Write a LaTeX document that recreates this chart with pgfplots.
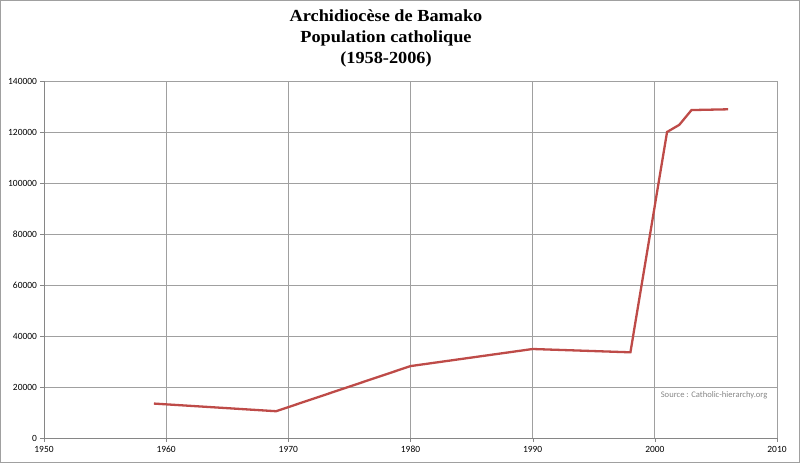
\documentclass[border=0pt]{standalone}
\usepackage{fontspec}
\setmainfont{Carlito}
\newfontfamily\titlefont[FakeStretch=1.08]{Liberation Serif}
\usepackage{pgfplots}
\pgfplotsset{compat=1.18}
\definecolor{linered}{RGB}{190,75,72}
\definecolor{gridgray}{RGB}{160,160,160}
\definecolor{axisgray}{RGB}{134,134,134}
\begin{document}
\begin{tikzpicture}[x=1bp,y=1bp]
\path[use as bounding box] (0,0) rectangle (800,463);
\draw[gridgray, line width=1bp] (0.5,0.5) rectangle (799.5,462.5);
\begin{axis}[
    at={(44bp,25bp)}, anchor=south west,
    scale only axis,
    width=733bp, height=357bp,
    xmin=1950, xmax=2010,
    ymin=0, ymax=140000,
    xtick distance=10, ytick distance=20000,
    scaled y ticks=false,
    /pgf/number format/fixed,
    /pgf/number format/1000 sep={},
    /pgf/number format/assume math mode=true,
    axis lines*=left,
    axis line style={draw=axisgray},
    tick style={draw=axisgray},
    tick align=outside,
    major tick length=4bp,
    grid=major,
    major grid style={draw=gridgray, line width=0.8bp},
    ticklabel style={font=\fontsize{9.5}{11}\selectfont, text=black},
    xticklabel style={yshift=-0.5bp},
    yticklabel style={xshift=0.5bp},
    clip=false,
]
\addplot[color=linered, line width=2.3bp] coordinates {
    (1959, 13500) (1969, 10500) (1980, 28200) (1990, 34900) (1998, 33600)
    (2001, 120000) (2002, 122800) (2003, 128600) (2006, 128900)
};
\node[anchor=west, text=axisgray, font=\fontsize{8.6}{10}\selectfont] at (axis cs:2000.2,16800) {Source : Catholic-hierarchy.org};
\end{axis}
\node[anchor=base, font=\titlefont\bfseries\fontsize{17}{20}\selectfont] at (386,441) {Archidiocèse de Bamako};
\node[anchor=base, font=\titlefont\bfseries\fontsize{17}{20}\selectfont] at (386,420) {Population catholique};
\node[anchor=base, font=\titlefont\bfseries\fontsize{17}{20}\selectfont] at (386,399) {(1958-2006)};
\end{tikzpicture}
\end{document}
